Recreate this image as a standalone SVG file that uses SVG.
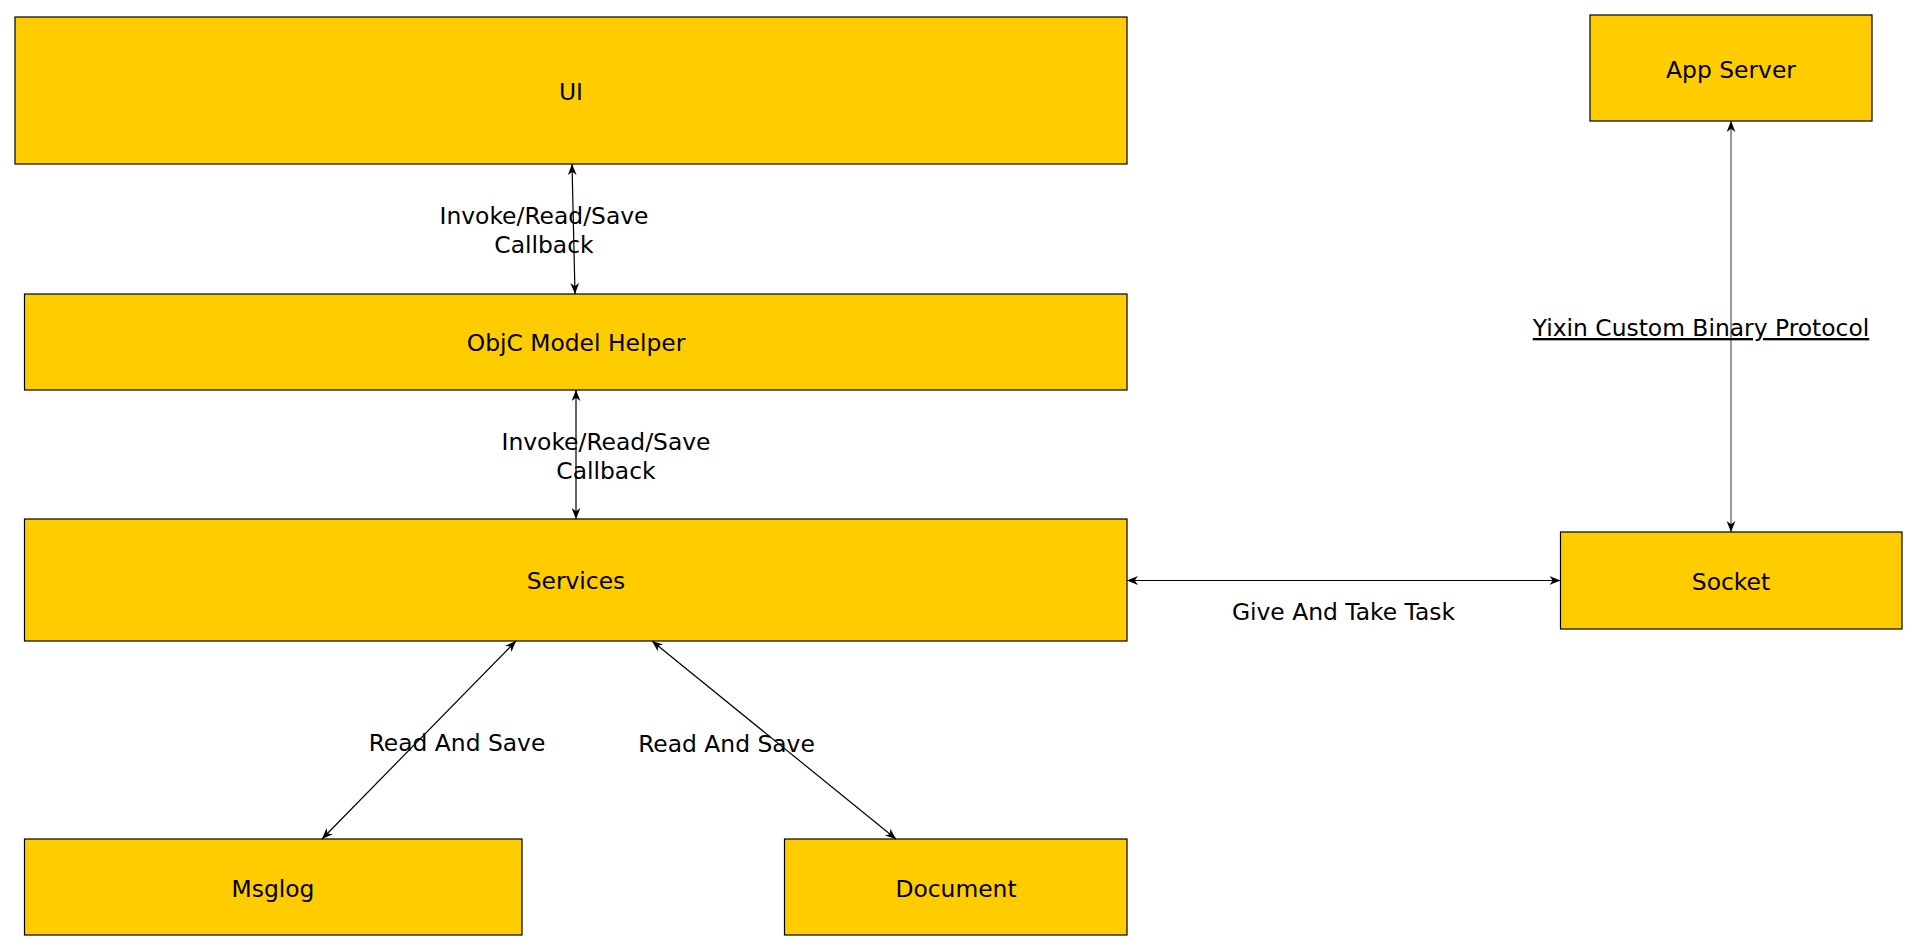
<svg xmlns="http://www.w3.org/2000/svg" width="1918" height="951" viewBox="0 0 1918 951">
<style>
.n rect{fill:#FFCC00;stroke:#000;stroke-width:1.2}
text{font-family:"DejaVu Sans","Noto Sans",sans-serif;font-size:23.4px;fill:#000;text-anchor:middle}
.c line{stroke:#000;stroke-width:1.2;fill:none;marker-start:url(#ah);marker-end:url(#ah)}
</style>
<defs>
<marker id="ah" viewBox="0 0 10 8" refX="10" refY="4" markerWidth="11" markerHeight="9" markerUnits="userSpaceOnUse" orient="auto-start-reverse">
<path d="M0,0 L10,4 L0,8 L3,4 z" fill="#000"/>
</marker>
</defs>
<rect width="1918" height="951" fill="#fff"/>
<g id="ui" class="n"><rect x="15" y="17" width="1112" height="147"/><text x="571" y="100">UI</text></g>
<g id="objc" class="n"><rect x="24.5" y="294" width="1102.5" height="96"/><text x="576" y="351">ObjC Model Helper</text></g>
<g id="services" class="n"><rect x="24.5" y="519" width="1102.5" height="122"/><text x="576" y="589">Services</text></g>
<g id="msglog" class="n"><rect x="24.5" y="839" width="497.5" height="96"/><text x="273" y="897">Msglog</text></g>
<g id="document" class="n"><rect x="784.5" y="839" width="342.5" height="96"/><text x="956" y="897">Document</text></g>
<g id="appserver" class="n"><rect x="1590" y="15" width="282" height="106"/><text x="1731" y="78">App Server</text></g>
<g id="socket" class="n"><rect x="1560.5" y="532" width="341.5" height="97"/><text x="1731" y="590">Socket</text></g>
<g id="connectors" class="c">
<line x1="572" y1="164" x2="575" y2="294"/>
<line x1="576" y1="390" x2="576" y2="519"/>
<line x1="1127" y1="580.5" x2="1560.5" y2="580.5"/>
<line x1="1731" y1="121" x2="1731" y2="532" style="stroke-width:0.8"/>
<line x1="516" y1="641" x2="322" y2="839"/>
<line x1="652" y1="641" x2="896" y2="839"/>
</g>
<g id="labels">
<text x="544" y="224">Invoke/Read/Save</text>
<text x="544" y="253">Callback</text>
<text x="606" y="450">Invoke/Read/Save</text>
<text x="606" y="479">Callback</text>
<text x="1343.5" y="620">Give And Take Task</text>
<text x="457" y="751">Read And Save</text>
<text x="726.5" y="752">Read And Save</text>
<text x="1701" y="336" text-decoration="underline">Yixin Custom Binary Protocol</text>
</g>
</svg>
